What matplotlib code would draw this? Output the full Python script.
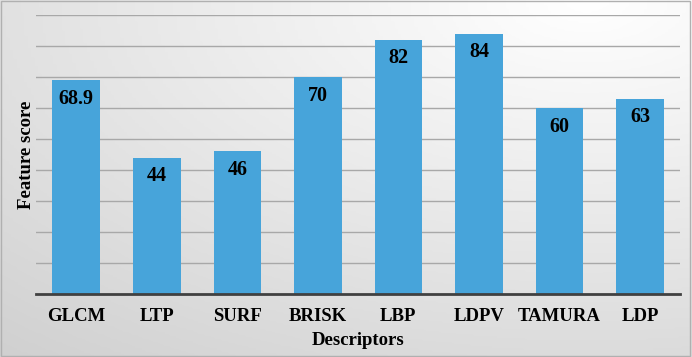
import numpy as np
import matplotlib
matplotlib.use("Agg")
import matplotlib.pyplot as plt
from matplotlib.colors import LinearSegmentedColormap

descriptors = ["GLCM", "LTP", "SURF", "BRISK", "LBP", "LDPV", "TAMURA", "LDP"]
scores = [68.9, 44, 46, 70, 82, 84, 60, 63]
score_labels = ["68.9", "44", "46", "70", "82", "84", "60", "63"]

plt.rcParams['font.family'] = ['Liberation Serif', 'DejaVu Serif']

fig = plt.figure(figsize=(6.92, 3.57), dpi=100)

# gradient background, light top right -> grey bottom left
bg = fig.add_axes([0, 0, 1, 1], zorder=0)
yy, xx = np.mgrid[0:1:200j, 0:1:200j]
dist = np.sqrt((0.85 - xx) ** 2 + (1 - yy) ** 2) / 1.3
cmap = LinearSegmentedColormap.from_list("bg", ["#ffffff", "#e8e8e8", "#d0d0d0"])
bg.imshow(dist, cmap=cmap, origin="lower", extent=[0, 1, 0, 1], aspect="auto")
bg.set_axis_off()
fig.patches.append(plt.Rectangle((0.002, 0.003), 0.995, 0.993, transform=fig.transFigure,
                                 fill=False, edgecolor="#b0b0b0", linewidth=1.0))

ax = fig.add_axes([0.052, 0.1765, 0.931, 0.7815], zorder=1)
ax.patch.set_alpha(0)
x = np.arange(len(descriptors))
ax.bar(x, scores, width=0.59, color="#47a4da", zorder=3)
ax.set_ylim(0, 90)
ax.set_xlim(-0.5, len(descriptors) - 0.5)
ax.set_yticks(np.arange(10, 91, 10))
ax.yaxis.grid(True, color="#a8a8a8", linewidth=1.0, zorder=1)
ax.tick_params(axis="y", length=0, labelleft=False)
ax.tick_params(axis="x", length=0, pad=10)
ax.set_xticks(x)
ax.set_xticklabels(descriptors, fontsize=13.5, fontweight="bold")
for s in ["top", "right", "left"]:
    ax.spines[s].set_visible(False)
ax.spines["bottom"].set_color("#404040")
ax.spines["bottom"].set_linewidth(2)
ax.spines["bottom"].set_zorder(4)

for xi, v, lab in zip(x, scores, score_labels):
    ax.text(xi, v - 6, lab, ha="center", va="center", fontsize=14.5, fontweight="bold", zorder=5)

ax.set_xlabel("Descriptors", fontsize=13.5, fontweight="bold", labelpad=5)
ax.set_ylabel("Feature score", fontsize=13.5, fontweight="bold", labelpad=1)

fig.savefig("out.png", dpi=100)
